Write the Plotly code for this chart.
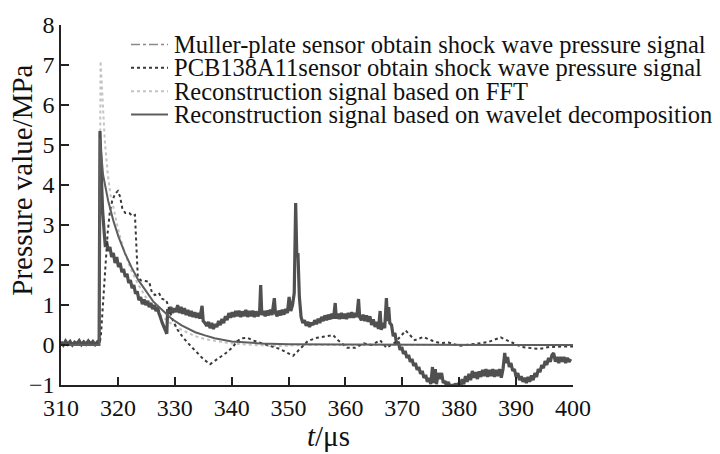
import plotly.graph_objects as go

# ---- Muller-plate sensor: measured shock wave pressure (noisy record) ----
muller_t = [
    310.0, 310.4, 310.8, 311.2, 311.6, 312.0, 312.4, 312.8, 313.2, 313.6, 314.0, 314.4,
    314.8, 315.2, 315.6, 316.0, 316.4, 316.7,
    316.85, 317.1, 317.3, 317.6, 317.8, 318.0, 318.3, 318.6, 318.9, 319.2, 319.5, 319.8,
    320.1, 320.4, 320.7, 321.0, 321.3, 321.6, 321.9, 322.2, 322.5, 322.8, 323.1, 323.4,
    323.7, 324.0, 324.3, 324.6, 324.9, 325.2, 325.5, 325.8, 326.1, 326.4, 326.7, 327.0,
    327.2, 327.5, 327.8, 328.1, 328.4, 328.6, 328.75,
    329.0, 329.3, 329.6, 329.9, 330.2, 330.5, 330.8, 331.1, 331.4, 331.7, 332.0, 332.3,
    332.6, 332.9, 333.2, 333.5, 333.8, 334.1, 334.4, 334.8, 335.0, 335.3, 335.6, 335.9,
    336.2, 336.5, 336.8, 337.1, 337.4, 337.7, 338.0, 338.3, 338.6, 338.9, 339.2, 339.5,
    339.8, 340.1, 340.4, 340.7, 341.0, 341.3, 341.6, 341.9, 342.2, 342.5, 342.8, 343.1,
    343.4, 343.7, 344.0, 344.3, 344.6, 344.9, 345.1, 345.3, 345.6, 345.9, 346.2, 346.5,
    346.8, 347.1, 347.5, 347.7, 348.0, 348.3, 348.6, 348.9, 349.2, 349.5, 349.8, 350.1,
    350.4, 350.7, 351.0, 351.25, 351.45, 351.65, 351.9, 352.2, 352.5, 352.8, 353.1, 353.4,
    353.7, 354.0, 354.3, 354.6, 354.9, 355.2, 355.5, 355.8, 356.1, 356.4, 356.7, 357.0,
    357.3, 357.6, 357.9, 358.2, 358.4, 358.7, 359.0, 359.3, 359.6, 359.9, 360.2, 360.5,
    360.8, 361.1, 361.4, 361.7, 362.0, 362.3, 362.5, 362.8, 363.1, 363.4, 363.7, 364.0,
    364.3, 364.6, 364.9, 365.2, 365.5, 365.8, 366.1, 366.3, 366.6, 366.9, 367.2, 367.4,
    367.6, 367.8, 368.1, 368.4, 368.7, 369.0, 369.3, 369.6, 369.9, 370.2, 370.5, 370.8,
    371.1, 371.4, 371.7, 372.0, 372.3, 372.6, 372.9, 373.2, 373.5, 373.8, 374.1, 374.4,
    374.7, 375.0, 375.3, 375.5, 375.8, 376.0, 376.3, 376.6, 376.9, 377.2, 377.5, 377.8,
    378.1, 378.4, 378.7, 379.0, 379.3, 379.6, 379.9, 380.2, 380.5, 380.8, 381.1, 381.4,
    381.7, 382.0, 382.3, 382.6, 382.9, 383.2, 383.5, 383.8, 384.1, 384.4, 384.7, 385.0,
    385.3, 385.6, 385.9, 386.2, 386.5, 386.8, 387.1, 387.4, 387.7, 388.0, 388.2, 388.5,
    388.8, 389.1, 389.4, 389.7, 390.0, 390.3, 390.6, 390.9, 391.2, 391.5, 391.8, 392.1,
    392.4, 392.7, 393.0, 393.3, 393.6, 393.9, 394.2, 394.5, 394.8, 395.1, 395.4, 395.7,
    396.0, 396.3, 396.6, 396.9, 397.2, 397.5, 397.8, 398.1, 398.4, 398.7, 399.0, 399.3,
    399.6,
]
muller_p = [
    0.08, 0.00, 0.10, 0.02, 0.09, 0.00, 0.07, 0.03, 0.11, 0.01, 0.08, 0.02,
    0.10, 0.03, 0.09, 0.01, 0.08, 0.05,
    5.35, 4.20, 3.40, 2.80, 2.45, 2.60, 2.35, 2.45, 2.20, 2.30, 2.05, 2.20,
    1.95, 2.05, 1.82, 1.90, 1.70, 1.78, 1.55, 1.62, 1.42, 1.50, 1.28, 1.34,
    1.12, 1.20, 1.02, 1.14, 1.00, 1.10, 0.95, 1.05, 0.90, 1.00, 0.85, 0.95,
    0.80, 0.68, 0.55, 0.45, 0.35, 0.28, 0.90,
    0.78, 0.95, 0.80, 0.92, 0.82, 1.00, 0.80, 0.95, 0.78, 0.92, 0.75, 0.88,
    0.72, 0.85, 0.70, 0.82, 0.68, 0.80, 0.66, 0.98, 0.60, 0.55, 0.48, 0.58,
    0.42, 0.55, 0.40, 0.52, 0.45, 0.60, 0.50, 0.65, 0.55, 0.72, 0.62, 0.80,
    0.68, 0.82, 0.70, 0.85, 0.72, 0.86, 0.70, 0.84, 0.72, 0.88, 0.70, 0.85,
    0.72, 0.86, 0.70, 0.84, 0.72, 0.80, 1.50, 0.75, 0.85, 0.72, 0.86, 0.74,
    0.88, 0.75, 1.17, 0.80, 0.72, 0.86, 0.74, 0.88, 0.76, 0.90, 0.80, 1.20,
    0.85, 1.00, 1.30, 3.55, 2.20, 2.30, 1.20, 0.70, 0.55, 0.62, 0.48, 0.58,
    0.45, 0.56, 0.50, 0.62, 0.52, 0.66, 0.55, 0.70, 0.60, 0.74, 0.62, 0.76,
    0.64, 0.78, 0.66, 1.05, 0.66, 0.78, 0.65, 0.80, 0.66, 0.78, 0.65, 0.80,
    0.68, 0.82, 0.68, 0.80, 0.70, 1.15, 0.70, 0.62, 0.76, 0.60, 0.74, 0.58,
    0.72, 0.50, 0.64, 0.45, 0.58, 0.40, 0.85, 0.38, 0.55, 0.42, 1.17, 0.60,
    0.95, 0.55, 0.50, 0.22, 0.30, 0.02, 0.08, -0.12, -0.05, -0.22, -0.15, -0.32,
    -0.25, -0.42, -0.35, -0.52, -0.45, -0.62, -0.55, -0.72, -0.65, -0.82, -0.75, -0.92,
    -0.82, -0.98, -0.55, -0.95, -0.60, -0.98, -0.70, -0.85, -0.70, -0.95, -0.90, -1.05,
    -0.92, -1.08, -0.98, -1.10, -0.96, -1.08, -0.95, -1.05, -0.85, -0.98, -0.78, -0.92,
    -0.72, -0.88, -0.65, -0.82, -0.68, -0.85, -0.66, -0.80, -0.62, -0.78, -0.60, -0.80,
    -0.62, -0.78, -0.60, -0.80, -0.62, -0.78, -0.60, -0.82, -0.60, -0.20, -0.45, -0.30,
    -0.55, -0.45, -0.65, -0.60, -0.80, -0.70, -0.88, -0.78, -0.92, -0.82, -0.95, -0.80,
    -0.92, -0.76, -0.88, -0.70, -0.80, -0.60, -0.68, -0.50, -0.58, -0.40, -0.50, -0.32,
    -0.42, -0.25, -0.20, -0.42, -0.30, -0.45, -0.30, -0.42, -0.30, -0.45, -0.32, -0.42,
    -0.35,
]

# ---- PCB138A11 sensor: measured shock wave pressure ----
pcb_t = [310.0, 316.7, 317.0, 317.6, 318.2, 318.6, 319.0, 319.5, 320.0, 320.4, 320.8, 321.3,
         322.0, 322.6, 323.0, 323.5, 324.0, 324.8, 325.5, 326.0, 326.5, 327.2, 327.8, 328.5,
         329.0, 329.7, 330.5, 331.4, 332.5, 333.9, 335.0, 336.2, 337.0, 338.0, 339.0, 340.2,
         341.0, 341.8, 342.8, 343.6, 345.0, 346.7, 348.5, 349.7, 350.8, 352.0, 353.4, 355.0,
         356.5, 357.8, 358.7, 359.3, 360.3, 361.7, 363.2, 364.6, 366.1, 367.2, 368.7, 370.6,
         372.2, 373.7, 375.4, 376.6, 378.1, 380.1, 382.6, 385.0, 387.3, 389.3, 391.0, 394.0,
         395.8, 398.0, 400.0]
pcb_p = [0.00, 0.00, 0.20, 1.50, 2.80, 3.35, 3.60, 3.78, 3.85, 3.70, 3.40, 3.30,
         3.30, 3.22, 3.25, 1.70, 1.62, 1.60, 1.58, 1.30, 1.25, 1.30, 1.15, 1.12,
         0.90, 0.60, 0.38, 0.20, 0.02, -0.18, -0.35, -0.48, -0.40, -0.32, -0.20, -0.05,
         0.10, 0.17, 0.18, 0.12, 0.05, -0.02, -0.10, -0.20, -0.27, -0.10, 0.10, 0.18,
         0.22, 0.25, 0.12, 0.04, -0.07, -0.07, 0.04, 0.00, 0.12, -0.07, 0.06, 0.36,
         0.12, 0.20, 0.10, 0.05, 0.06, -0.02, 0.03, 0.07, 0.19, 0.07, -0.05, -0.10,
         -0.05, -0.04, -0.04]

# ---- Reconstruction based on FFT ----
fft_t = [310.0, 316.75, 316.95, 317.3, 317.7, 318.2, 318.7, 319.2, 320.2, 321.2, 322.4, 323.6,
         324.8, 326.2, 327.7, 329.5, 331.2, 333.6, 335.3, 337.5, 340.0, 344.0, 348.0, 352.0,
         360.0, 400.0]
fft_p = [0.00, 0.00, 7.10, 6.00, 5.10, 4.30, 3.75, 3.45, 2.80, 2.30, 1.85, 1.50,
         1.22, 0.95, 0.72, 0.52, 0.38, 0.22, 0.15, 0.09, 0.04, 0.00, -0.03, 0.00,
         0.00, 0.00]

# ---- Reconstruction based on wavelet decomposition ----
wav_t = [310.0, 316.75, 316.85, 317.4, 318.3, 319.2, 320.1, 321.2, 322.4, 323.6, 324.8, 326.2,
         327.7, 329.5, 331.2, 333.6, 335.3, 337.0, 340.0, 345.0, 350.0, 360.0, 400.0]
wav_p = [0.00, 0.00, 5.15, 4.25, 3.60, 3.11, 2.71, 2.31, 1.94, 1.62, 1.38, 1.09,
         0.89, 0.65, 0.49, 0.32, 0.24, 0.17, 0.09, 0.04, 0.02, 0.01, 0.00]

legend_labels = [
    "Muller-plate sensor obtain shock wave pressure signal",
    "PCB138A11sensor obtain shock wave pressure signal",
    "Reconstruction signal based on FFT",
    "Reconstruction signal based on wavelet decomposition",
]
legend_styles = [
    dict(color="#8a8a8a", dash="dashdot", width=1.5),
    dict(color="#3a3a3a", dash="dot", width=2),
    dict(color="#c4c4c4", dash="dot", width=2),
    dict(color="#5e5e5e", dash="solid", width=2),
]

SERIF = "Liberation Serif"
W, H = 720, 454
L, R, T, B = 61, 147, 15, 69
PW, PH = W - L - R, H - T - B


def px_x(px):
    return (px - L) / PW


def px_y(py):
    return (H - B - py) / PH


fig = go.Figure()
fig.add_trace(go.Scatter(x=fft_t, y=fft_p, mode="lines",
                         line=dict(color="#c4c4c4", dash="dot", width=2)))
fig.add_trace(go.Scatter(x=muller_t, y=muller_p, mode="lines",
                         line=dict(color="#505050", width=3.2, simplify=False)))
fig.add_trace(go.Scatter(x=pcb_t, y=pcb_p, mode="lines",
                         line=dict(color="#3a3a3a", dash="dot", width=2)))
fig.add_trace(go.Scatter(x=wav_t, y=wav_p, mode="lines",
                         line=dict(color="#5e5e5e", width=2)))

# hand-built legend: sample line + label per row
row_y = [35, 59, 83, 107]
annotations = []
shapes = []
for label, style, py in zip(legend_labels, legend_styles, row_y):
    shapes.append(dict(type="line", xref="paper", yref="paper",
                       x0=px_x(131), x1=px_x(168), y0=px_y(py), y1=px_y(py),
                       line=style))
    annotations.append(dict(xref="paper", yref="paper", x=px_x(172), y=px_y(py),
                            text=label, showarrow=False, xanchor="left", yanchor="middle",
                            font=dict(family=SERIF, size=24.5, color="#111111")))

annotations.append(dict(xref="paper", yref="paper", x=px_x(22), y=px_y(175),
                        text="Pressure value/MPa", textangle=-90, showarrow=False,
                        xanchor="center", yanchor="middle",
                        font=dict(family=SERIF, size=29, color="#111111")))
annotations.append(dict(xref="paper", yref="paper", x=px_x(328), y=px_y(437),
                        text="<i>t</i>/μs", showarrow=False,
                        xanchor="center", yanchor="middle",
                        font=dict(family=SERIF, size=29, color="#111111")))

axis_common = dict(showgrid=False, zeroline=False, showline=True, linecolor="#222222",
                   linewidth=1.5, ticks="inside", ticklen=8, tickwidth=1.5,
                   tickcolor="#222222", mirror=False,
                   tickfont=dict(family=SERIF, size=24, color="#111111"))

fig.update_layout(
    width=W, height=H,
    margin=dict(l=L, r=R, t=T, b=B),
    paper_bgcolor="white", plot_bgcolor="white",
    showlegend=False,
    font=dict(family=SERIF),
    xaxis=dict(range=[310, 400], dtick=10, tick0=310, **axis_common),
    yaxis=dict(range=[-1, 8], dtick=1, tick0=0, **axis_common),
    annotations=annotations,
    shapes=shapes,
)

fig.write_html("out.html")
